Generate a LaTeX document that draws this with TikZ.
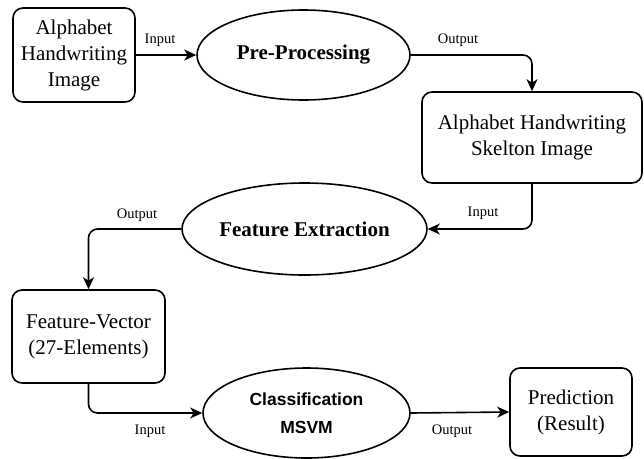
\documentclass[tikz,border=0pt]{standalone}
\usepackage{fontspec}
\setmainfont{Liberation Serif}
\newfontfamily\arialf{Liberation Sans}
\usetikzlibrary{shapes.geometric,arrows.meta}
\begin{document}
\begin{tikzpicture}[x=1pt,y=-1pt,
  box/.style={draw,line width=1.6pt,rounded corners=10pt,align=center,inner sep=0pt,
    font=\fontsize{21}{26}\selectfont},
  ell/.style={draw,ellipse,line width=1.6pt,inner sep=0pt,align=center},
  lbl/.style={font=\fontsize{14.5}{16}\selectfont,inner sep=0pt},
  conn/.style={line width=1.6pt,rounded corners=9pt,-{Stealth[length=12pt,width=11pt,inset=3.5pt]}}]
\useasboundingbox (0,0) rectangle (644,458);
\node[box,minimum width=122pt,minimum height=94pt] (b1) at (74,55) {Alphabet\\Handwriting\\Image};
\node[ell,minimum width=213pt,minimum height=90pt,font=\fontsize{21}{24}\selectfont\bfseries] (e1) at (303.5,55) {Pre-Processing};
\node[box,minimum width=220pt,minimum height=91pt] (b2) at (532,137.5) {Alphabet Handwriting\\Skelton Image};
\node[ell,minimum width=245pt,minimum height=92pt,font=\fontsize{21}{24}\selectfont\bfseries] (e2) at (304.5,229) {Feature Extraction};
\node[box,minimum width=153pt,minimum height=93pt] (b3) at (88.5,336.5) {Feature-Vector\\(27-Elements)};
\node[ell,minimum width=207pt,minimum height=90pt,font=\fontsize{17.5}{28}\selectfont\arialf\bfseries] (e3) at (306.5,413) {Classification\\MSVM};
\node[box,minimum width=122pt,minimum height=88pt] (b4) at (571,412) {Prediction\\(Result)};

\draw[conn] (b1.east) -- (e1.west);
\node[lbl] (l1) at (160,40) {Input};
\draw[conn] (e1.east) -| (b2.north);
\node[lbl] (l2) at (458,40) {Output};
\draw[conn] (b2.south) |- (e2.east);
\node[lbl] (l3) at (483,213) {Input};
\draw[conn] (e2.west) -| (b3.north);
\node[lbl] (l4) at (137,215) {Output};
\draw[conn] (b3.south) |- (e3.west);
\node[lbl] (l5) at (150,431) {Input};
\draw[conn] (e3.east) -- (b4.west);
\node[lbl] (l6) at (452,431) {Output};
\end{tikzpicture}
\end{document}
